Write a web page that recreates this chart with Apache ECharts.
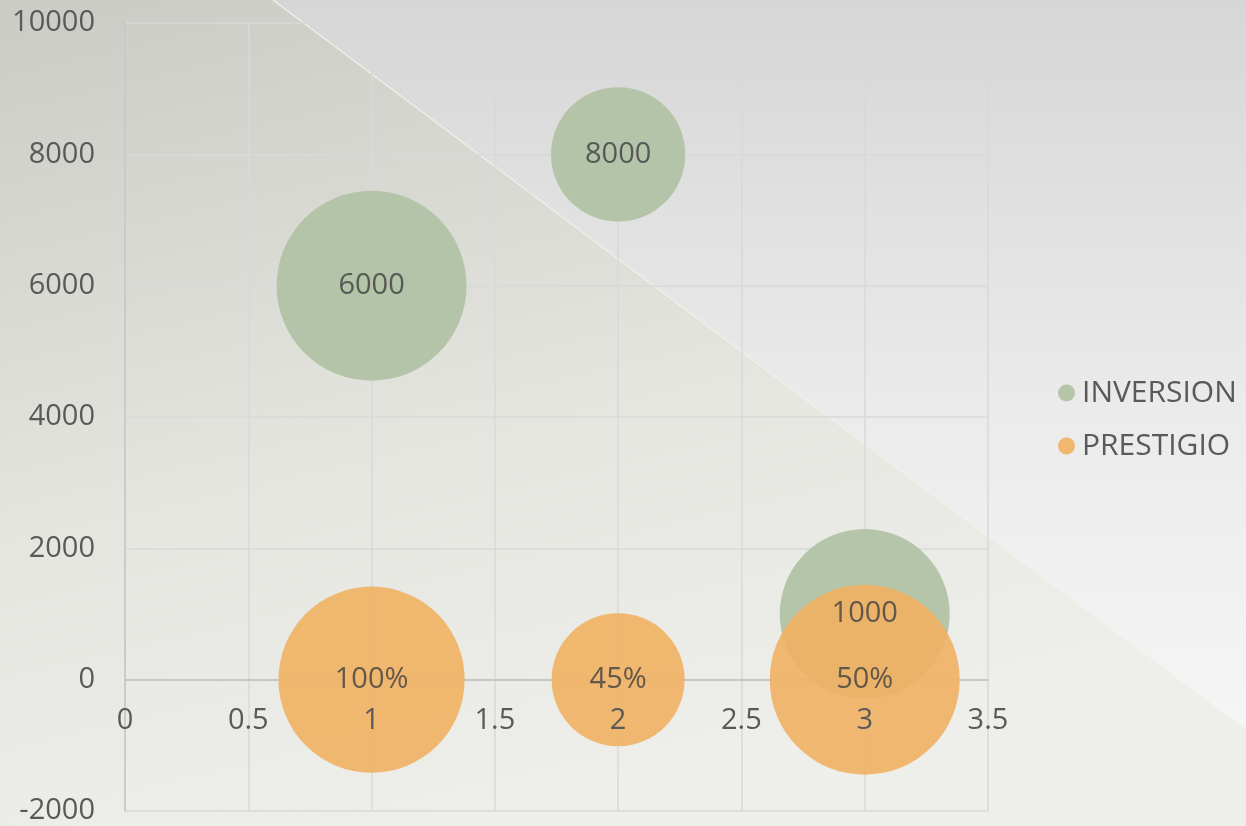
<!DOCTYPE html>
<html>
<head>
<meta charset="utf-8">
<script src="https://cdn.jsdelivr.net/npm/echarts@6/dist/echarts.min.js"></script>
<style>
  html, body { margin: 0; padding: 0; width: 1246px; height: 826px; overflow: hidden; }
  body { background: linear-gradient(to bottom, #d6d6d6 0%, #ebebeb 50%, #f8f8f8 100%); position: relative; }
  #bg { position: absolute; left: 0; top: 0; width: 1246px; height: 826px; }
  #chart { position: absolute; left: 0; top: 0; width: 1246px; height: 826px; }
</style>
</head>
<body>
<svg id="bg" width="1246" height="826" xmlns="http://www.w3.org/2000/svg">
  <defs>
    <linearGradient id="g1" x1="0" y1="0" x2="0.35" y2="1">
      <stop offset="0" stop-color="#cbcbc6"/>
      <stop offset="0.6" stop-color="#e6e6e1"/>
      <stop offset="1" stop-color="#eeeeea"/>
    </linearGradient>
  </defs>
  <polygon points="273,0 1246,730 1246,826 0,826 0,0" fill="url(#g1)"/>
  <line x1="273" y1="0" x2="1246" y2="730" stroke="#f1f1e4" stroke-width="1.2"/>
</svg>
<div id="chart"></div>
<script>
const seriesNames = ['INVERSION', 'PRESTIGIO'];
const xValues = [1, 2, 3];
const xTicks = [0, 0.5, 1, 1.5, 2, 2.5, 3, 3.5];
const yTicks = [-2000, 0, 2000, 4000, 6000, 8000, 10000];
const inversionY = [6000, 8000, 1000];
const inversionSize = [100, 50, 80];
const inversionLabels = ['6000', '8000', '1000'];
const prestigioY = [0, 0, 0];
const prestigioSize = [96, 49, 100];
const prestigioLabels = ['100%', '45%', '50%'];

const FONT = "'Open Sans', 'DejaVu Sans', sans-serif";
const maxDiameter = 190;
function diam(s) { return maxDiameter * Math.sqrt(s / 100); }

function build(ys, sizes, labels) {
  return xValues.map((x, i) => ({ value: [x, ys[i], sizes[i]], labelText: labels[i] }));
}

const GRID = { left: 125, right: 258, top: 23, bottom: 15 };
const H = 826;
const xMin = xTicks[0], xMax = xTicks[xTicks.length - 1];
const yMin = yTicks[0], yMax = yTicks[yTicks.length - 1];
const plotH = H - GRID.top - GRID.bottom;
// shift x-axis (line + labels) up to the y = 0 line
const zeroOffset = -plotH * (0 - yMin) / (yMax - yMin);

const labelStyle = {
  show: true,
  position: 'inside',
  formatter: p => p.data.labelText,
  fontSize: 29,
  color: '#404040',
  fontFamily: FONT
};

const chart = echarts.init(document.getElementById('chart'), null, { renderer: 'canvas' });
chart.setOption({
  backgroundColor: 'transparent',
  animation: false,
  textStyle: { fontFamily: FONT },
  grid: Object.assign({ containLabel: false, outerBoundsMode: 'none' }, GRID),
  legend: {
    orient: 'vertical',
    left: 1053,
    top: 372,
    itemWidth: 17,
    itemHeight: 17,
    itemGap: 21,
    icon: 'circle',
    data: seriesNames,
    textStyle: { fontSize: 30, color: '#595959', fontFamily: FONT, lineHeight: 32, padding: [0, 0, 0, 2] }
  },
  xAxis: [
    {
      type: 'value',
      min: xMin,
      max: xMax,
      interval: 0.5,
      position: 'bottom',
      offset: zeroOffset,
      axisLine: { show: true, onZero: false, lineStyle: { color: '#bfbfbf', width: 1.5 } },
      axisTick: { show: false },
      axisLabel: { show: false },
      splitLine: { show: true, lineStyle: { color: '#d9d9d9', width: 1.5 } }
    },
    {
      type: 'value',
      min: xMin,
      max: xMax,
      interval: 0.5,
      position: 'bottom',
      offset: zeroOffset,
      z: 10,
      axisLine: { show: false, onZero: false },
      axisTick: { show: false },
      axisLabel: { fontSize: 29, color: '#595959', margin: 27, fontFamily: FONT },
      splitLine: { show: false }
    }
  ],
  yAxis: {
    type: 'value',
    min: yMin,
    max: yMax,
    interval: 2000,
    axisLine: { show: true, lineStyle: { color: '#c4c4c4', width: 1.5 } },
    axisTick: { show: false },
    axisLabel: { fontSize: 29, color: '#595959', margin: 30, fontFamily: FONT, formatter: v => String(v) },
    splitLine: { show: true, lineStyle: { color: '#d9d9d9', width: 1.5 } }
  },
  series: [
    {
      name: seriesNames[0],
      type: 'scatter',
      data: build(inversionY, inversionSize, inversionLabels),
      symbolSize: v => diam(v[2]),
      itemStyle: { color: '#b3c3a7', opacity: 0.97 },
      label: { show: false },
      z: 2
    },
    {
      name: seriesNames[1],
      type: 'scatter',
      data: build(prestigioY, prestigioSize, prestigioLabels),
      symbolSize: v => diam(v[2]),
      itemStyle: { color: '#f0b265', opacity: 0.92 },
      label: { show: false },
      z: 3
    },
    {
      name: 'labels-inv',
      type: 'scatter',
      data: build(inversionY, inversionSize, inversionLabels),
      symbolSize: 1,
      itemStyle: { color: 'rgba(0,0,0,0)' },
      label: labelStyle,
      silent: true,
      z: 5
    },
    {
      name: 'labels-pre',
      type: 'scatter',
      data: build(prestigioY, prestigioSize, prestigioLabels),
      symbolSize: 1,
      itemStyle: { color: 'rgba(0,0,0,0)' },
      label: labelStyle,
      silent: true,
      z: 5
    }
  ]
});
</script>
</body>
</html>
